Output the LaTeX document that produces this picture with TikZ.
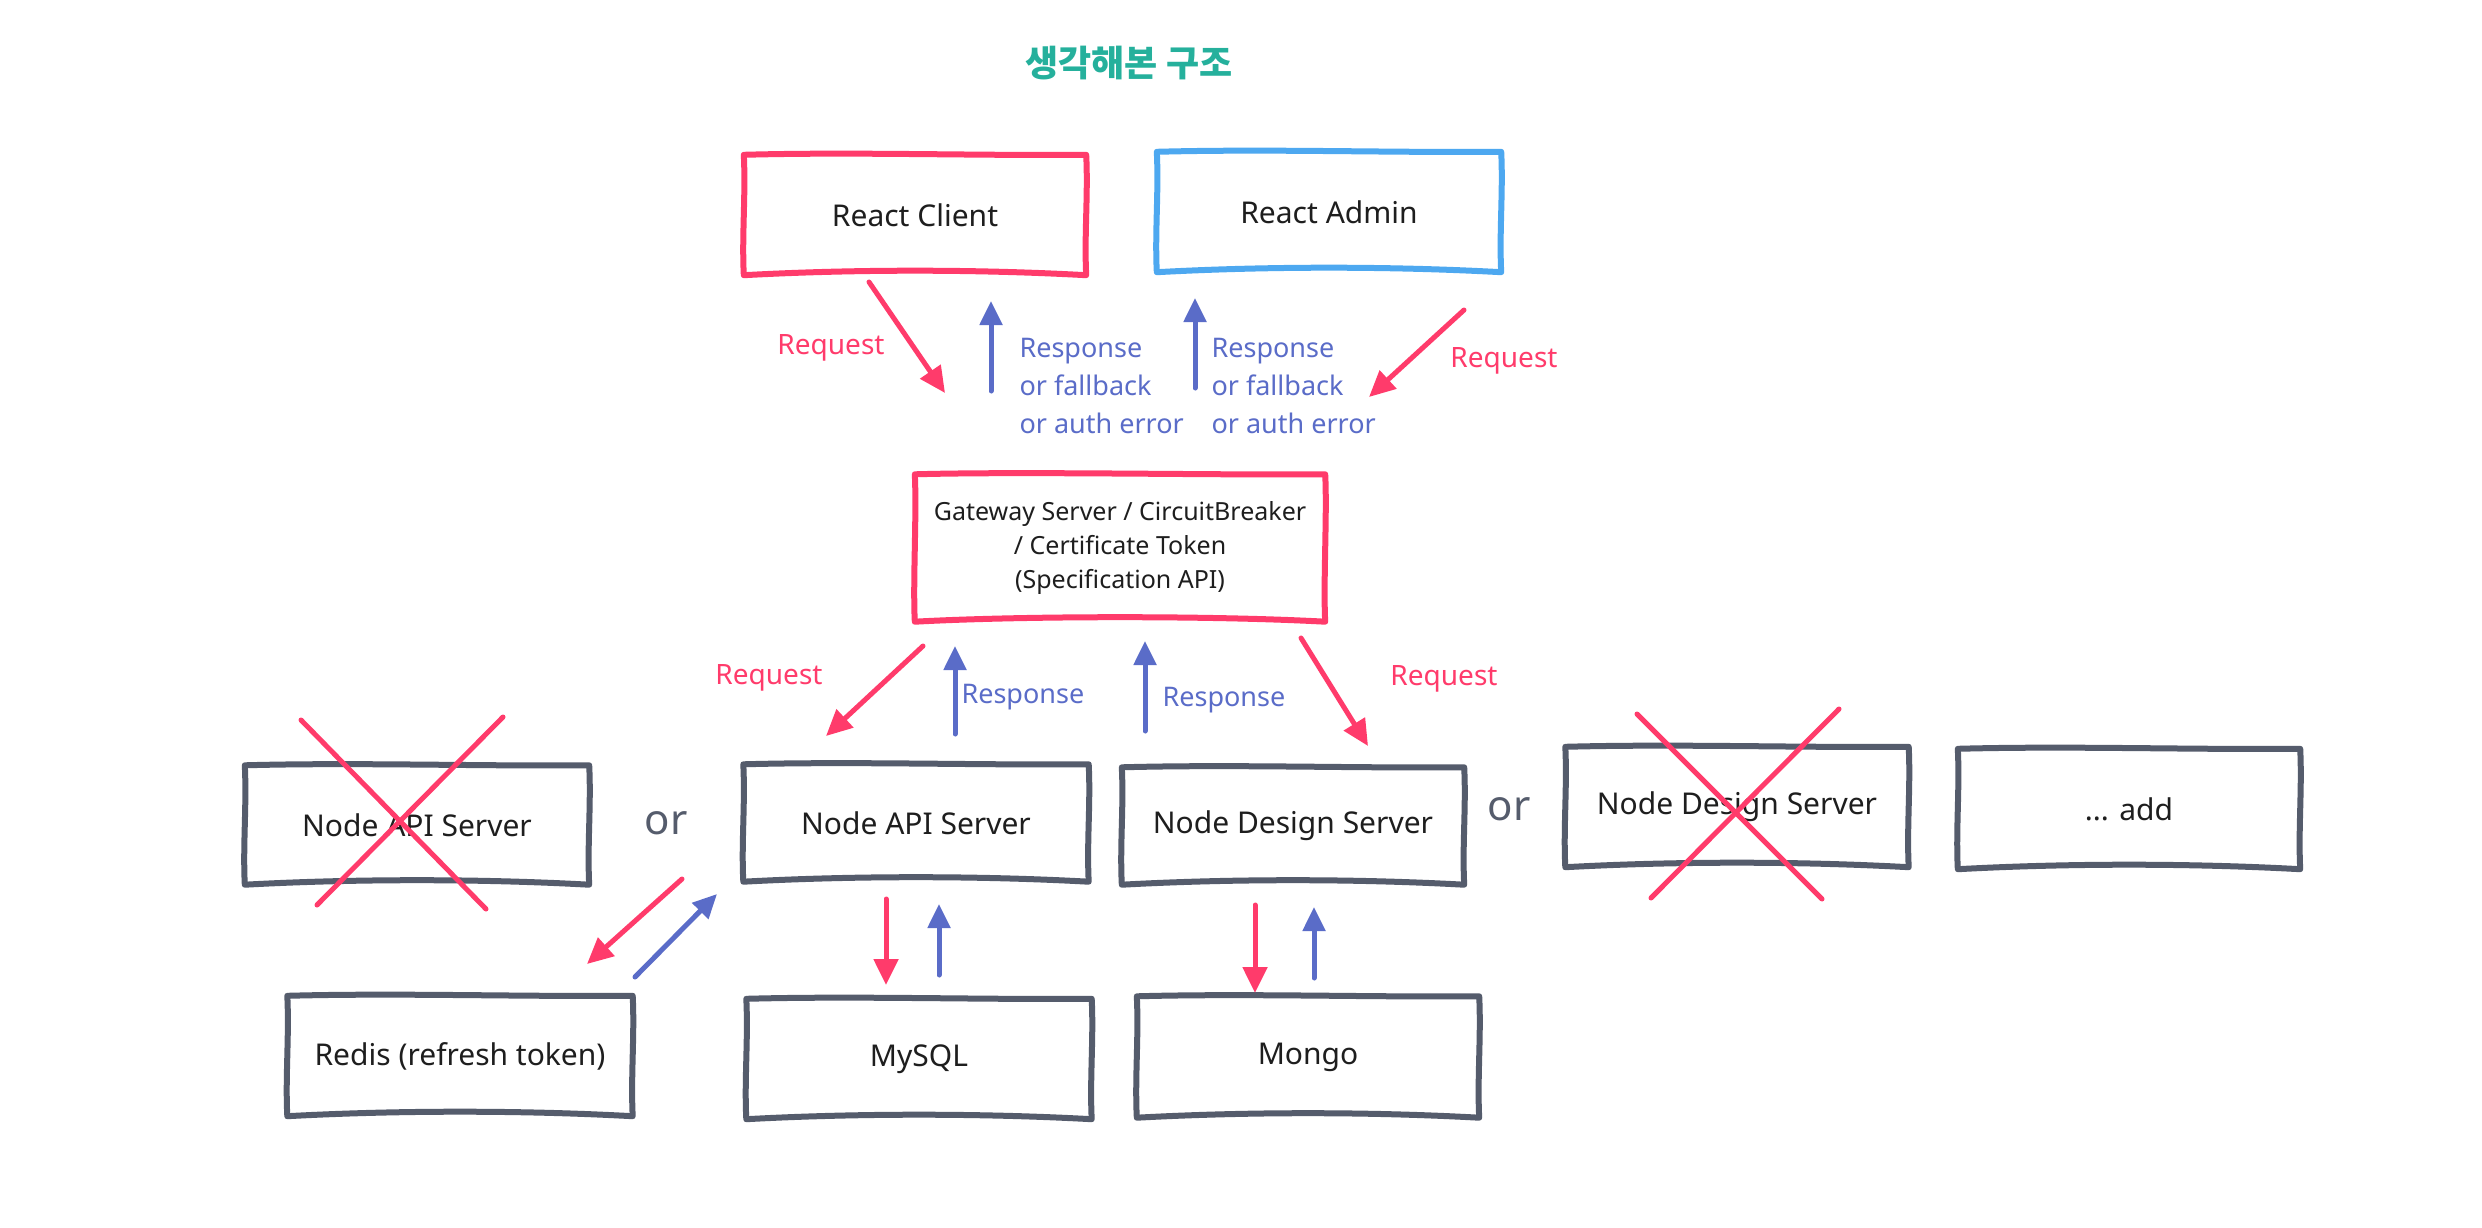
\documentclass[tikz,border=0pt]{standalone}
\usepackage{fontspec}
\setmainfont{Noto Sans}
\newfontfamily\krfont{Noto Sans CJK KR}
\usetikzlibrary{arrows.meta}
\definecolor{cred}{HTML}{FF3B6B}
\definecolor{cblue}{HTML}{4DA8F0}
\definecolor{carrow}{HTML}{5A6CC8}
\definecolor{cgray}{HTML}{555C6C}
\definecolor{cteal}{HTML}{25B09C}
\definecolor{ctext}{HTML}{1E1E1E}
\newcommand{\sketchbox}[2]{%
  \draw[draw=#2, line width=6pt, line join=round, line cap=round]
    (#1.north west) .. controls +(110,-3) and +(-110,1) .. (#1.north east)
    .. controls +(2,40) and +(-2,-40) .. (#1.south east)
    .. controls +(-110,-6) and +(110,-6) .. (#1.south west)
    .. controls +(-2,-40) and +(2,40) .. cycle;}
\begin{document}
\begin{tikzpicture}[x=1pt,y=-1pt,
  box/.style={rectangle, inner sep=0pt,
    minimum width=342pt, minimum height=120pt,
    font=\fontsize{30}{36}\selectfont, text=ctext, align=center},
  reqarrow/.style={draw=cred, line width=5pt, line cap=round,
    -{Triangle[length=26pt,width=24pt]}},
  resarrow/.style={draw=carrow, line width=5pt, line cap=round,
    -{Triangle[length=24pt,width=22pt]}},
  crossline/.style={draw=cred, line width=5pt, line cap=round},
  reqlabel/.style={text=cred, font=\fontsize{28}{38}\selectfont},
  reslabel/.style={text=carrow, font=\fontsize{27}{38}\selectfont, align=left},
  orlabel/.style={text=cgray, font=\fontsize{42}{46}\selectfont}
]
\useasboundingbox (0,0) rectangle (2482,1228);
\fill[white] (0,0) rectangle (2482,1228);

% title
\node[text=cteal, font=\krfont\bfseries\fontsize{36}{42}\selectfont] (title) at (1129,63) {생각해본 구조};

% boxes
\node[box] (rc) at (915,215) {React Client};
\node[box, minimum width=344pt] (ra) at (1329,212) {React Admin};
\node[box, minimum width=410pt, minimum height=147pt,
  font=\fontsize{25}{34}\selectfont] (gw) at (1120,548)
  {Gateway Server / CircuitBreaker\\/ Certificate Token\\(Specification API)};
\node[box, minimum width=344pt, minimum height=119pt] (napix) at (417,825) {Node API Server};
\node[box, minimum width=345pt, minimum height=117pt] (napi) at (916,823) {Node API Server};
\node[box, minimum height=117pt] (nds) at (1293,826) {Node Design Server};
\node[box, minimum width=343pt] (ndsx) at (1737,807) {Node Design Server};
\node[box] (add) at (2129,809) {... add};
\node[box, minimum width=345pt] (redis) at (460,1056) {Redis (refresh token)};
\node[box, minimum width=345pt] (mysql) at (919,1059) {MySQL};
\node[box, minimum height=121pt] (mongo) at (1308,1057) {Mongo};

\sketchbox{rc}{cred}
\sketchbox{ra}{cblue}
\sketchbox{gw}{cred}
\sketchbox{napix}{cgray}
\sketchbox{napi}{cgray}
\sketchbox{nds}{cgray}
\sketchbox{ndsx}{cgray}
\sketchbox{add}{cgray}
\sketchbox{redis}{cgray}
\sketchbox{mysql}{cgray}
\sketchbox{mongo}{cgray}

% or labels
\node[orlabel] (or1) at (666,823) {or};
\node[orlabel] (or2) at (1509,809) {or};

% crosses
\coordinate (x1a) at (301,720); \coordinate (x1b) at (486,909);
\coordinate (x1c) at (503,717); \coordinate (x1d) at (317,905);
\draw[crossline] (x1a) -- (x1b);
\draw[crossline] (x1c) -- (x1d);
\coordinate (x2a) at (1637,714); \coordinate (x2b) at (1822,899);
\coordinate (x2c) at (1839,709); \coordinate (x2d) at (1651,898);
\draw[crossline] (x2a) -- (x2b);
\draw[crossline] (x2c) -- (x2d);

% top arrows
\coordinate (a1s) at (869,282); \coordinate (a1e) at (945,393);
\draw[reqarrow] (a1s) -- (a1e);
\node[reqlabel] (l1) at (831,348) {Request};
\coordinate (a2s) at (991,391); \coordinate (a2e) at (991,301);
\draw[resarrow] (a2s) -- (a2e);
\node[reslabel, anchor=west] (l2) at (1016,386) {Response\\or fallback\\or auth error};
\coordinate (a3s) at (1195,388); \coordinate (a3e) at (1195,298);
\draw[resarrow] (a3s) -- (a3e);
\node[reslabel, anchor=west] (l3) at (1208,386) {Response\\or fallback\\or auth error};
\coordinate (a4s) at (1464,310); \coordinate (a4e) at (1369,397);
\draw[reqarrow] (a4s) -- (a4e);
\node[reqlabel] (l4) at (1504,361) {Request};

% gateway arrows
\coordinate (b1s) at (923,646); \coordinate (b1e) at (826,736);
\draw[reqarrow] (b1s) -- (b1e);
\node[reqlabel] (m1) at (769,678) {Request};
\coordinate (b2s) at (955,734); \coordinate (b2e) at (955,646);
\draw[resarrow] (b2s) -- (b2e);
\node[reslabel, anchor=west] (m2) at (958,697) {Response};
\coordinate (b3s) at (1145,731); \coordinate (b3e) at (1145,641);
\draw[resarrow] (b3s) -- (b3e);
\node[reslabel, anchor=west] (m3) at (1159,700) {Response};
\coordinate (b4s) at (1301,638); \coordinate (b4e) at (1368,746);
\draw[reqarrow] (b4s) -- (b4e);
\node[reqlabel] (m4) at (1444,679) {Request};

% redis arrows
\coordinate (c1s) at (682,879); \coordinate (c1e) at (587,964);
\draw[reqarrow] (c1s) -- (c1e);
\coordinate (c2s) at (635,977); \coordinate (c2e) at (717,894);
\draw[resarrow] (c2s) -- (c2e);

% mysql arrows
\coordinate (d1s) at (886,899); \coordinate (d1e) at (886,985);
\draw[reqarrow] (d1s) -- (d1e);
\coordinate (d2s) at (939,975); \coordinate (d2e) at (939,904);
\draw[resarrow] (d2s) -- (d2e);

% mongo arrows
\coordinate (e1s) at (1255,905); \coordinate (e1e) at (1255,993);
\draw[reqarrow] (e1s) -- (e1e);
\coordinate (e2s) at (1314,978); \coordinate (e2e) at (1314,907);
\draw[resarrow] (e2s) -- (e2e);
\end{tikzpicture}
\end{document}
